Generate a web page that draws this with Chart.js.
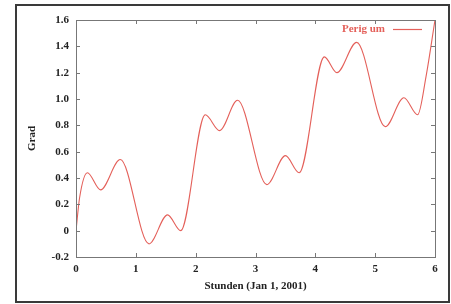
<!DOCTYPE html>
<html>
<head>
<meta charset="utf-8">
<script src="https://cdn.jsdelivr.net/npm/chart.js@4"></script>
<style>
  html, body { margin: 0; padding: 0; background: #fff; }
  #wrap { width: 451px; height: 304px; }
</style>
</head>
<body>
<div id="wrap"><canvas id="c" width="451" height="304"></canvas></div>
<script>
// Perig um (Grad) over hours
const hours = [0, 0.06, 0.19, 0.41, 0.74, 1.22, 1.53, 1.75, 2.16, 2.40, 2.70, 3.19, 3.50, 3.73, 4.15, 4.36, 4.69, 5.17, 5.48, 5.71, 5.85, 6];
const grad  = [0, 0.25, 0.44, 0.31, 0.54, -0.10, 0.12, 0.00, 0.88, 0.76, 0.99, 0.35, 0.57, 0.44, 1.32, 1.20, 1.43, 0.79, 1.01, 0.88, 1.17, 1.60];
const xTicks = [0, 1, 2, 3, 4, 5, 6];
const yTicks = [-0.2, 0, 0.2, 0.4, 0.6, 0.8, 1, 1.2, 1.4, 1.6];
const seriesName = "Perig um";
const xTitle = "Stunden (Jan 1, 2001)";
const yTitle = "Grad";

const RED = "#e4605a";
const FONT = "'Liberation Serif', 'DejaVu Serif', serif";

// frame, plot border, inward ticks and the legend, gnuplot style
const gnuplotLook = {
  id: "gnuplotLook",
  beforeDraw(chart) {
    const ctx = chart.ctx;
    ctx.save();
    ctx.fillStyle = "#fff";
    ctx.fillRect(0, 0, chart.width, chart.height);
    ctx.strokeStyle = "#3a3a3a";
    ctx.lineWidth = 2;
    ctx.strokeRect(16, 5, 433, 297);
    ctx.restore();
  },
  afterDraw(chart) {
    const { ctx, chartArea: a, scales } = chart;
    ctx.save();
    ctx.strokeStyle = "#777";
    ctx.lineWidth = 1;
    ctx.strokeRect(Math.round(a.left) + 0.5, Math.round(a.top) + 0.5,
                   Math.round(a.right - a.left), Math.round(a.bottom - a.top));
    ctx.beginPath();
    const t = 4;
    xTicks.forEach(v => {
      const px = Math.round(scales.x.getPixelForValue(v)) + 0.5;
      ctx.moveTo(px, a.bottom); ctx.lineTo(px, a.bottom - t);
      ctx.moveTo(px, a.top); ctx.lineTo(px, a.top + t);
    });
    yTicks.forEach(v => {
      const py = Math.round(scales.y.getPixelForValue(v)) + 0.5;
      ctx.moveTo(a.left, py); ctx.lineTo(a.left + t, py);
      ctx.moveTo(a.right, py); ctx.lineTo(a.right - t, py);
    });
    ctx.stroke();

    // legend
    ctx.font = "bold 11px " + FONT;
    ctx.fillStyle = RED;
    ctx.textAlign = "right";
    ctx.textBaseline = "middle";
    ctx.fillText(seriesName, 385, 29);
    ctx.strokeStyle = RED;
    ctx.lineWidth = 1.2;
    ctx.beginPath();
    ctx.moveTo(393, 29.5); ctx.lineTo(422, 29.5);
    ctx.stroke();
    ctx.restore();
  }
};

new Chart(document.getElementById("c"), {
  type: "line",
  data: {
    datasets: [{
      label: seriesName,
      data: hours.map((h, i) => ({ x: h, y: grad[i] })),
      borderColor: RED,
      borderWidth: 1.1,
      pointRadius: 0,
      cubicInterpolationMode: "monotone",
      fill: false
    }]
  },
  options: {
    responsive: false,
    animation: false,
    layout: { padding: { left: 22, right: 16, top: 20, bottom: 7 } },
    plugins: { legend: { display: false }, tooltip: { enabled: false } },
    scales: {
      x: {
        type: "linear",
        min: 0, max: 6,
        afterBuildTicks: s => { s.ticks = xTicks.map(v => ({ value: v })); },
        afterFit: s => { s.height = 40; },
        grid: { display: false, drawTicks: false },
        border: { display: false },
        ticks: { color: "#222", padding: 6, maxRotation: 0, font: { family: FONT, size: 11, weight: "bold" } },
        title: { display: true, text: xTitle, color: "#222", padding: { top: 2, bottom: 4 }, font: { family: FONT, size: 11, weight: "bold" } }
      },
      y: {
        min: -0.2, max: 1.6,
        afterBuildTicks: s => { s.ticks = yTicks.map(v => ({ value: v })); },
        afterFit: s => { s.width = 54; },
        grid: { display: false, drawTicks: false },
        border: { display: false },
        ticks: { color: "#222", padding: 7, font: { family: FONT, size: 11, weight: "bold" } },
        title: { display: true, text: yTitle, color: "#222", padding: { top: 4, bottom: 4 }, font: { family: FONT, size: 11, weight: "bold" } }
      }
    }
  },
  plugins: [gnuplotLook]
});
</script>
</body>
</html>
